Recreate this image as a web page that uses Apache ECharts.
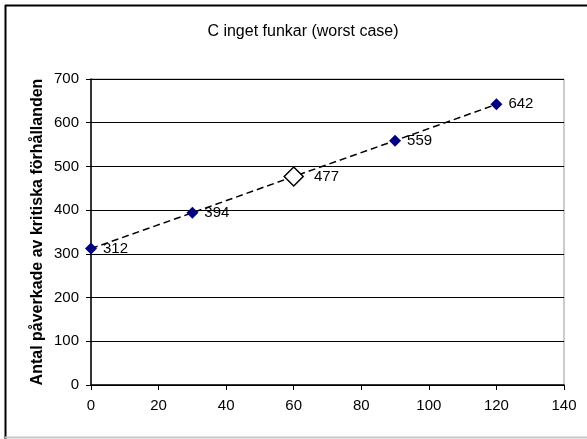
<!DOCTYPE html>
<html>
<head>
<meta charset="utf-8">
<script src="https://cdn.jsdelivr.net/npm/echarts@6/dist/echarts.min.js"></script>
<style>
html, body { margin: 0; padding: 0; background: #fff; overflow: hidden; }
#main { width: 587px; height: 439px; }
</style>
</head>
<body>
<div id="main"></div>
<script>
var xValues = [0, 30, 60, 90, 120];
var yValues = [312, 394, 477, 559, 642];
var chartTitle = 'C inget funkar (worst case)';
var yName = 'Antal påverkade av kritiska förhållanden';

var myChart = echarts.init(document.getElementById('main'));

var points = xValues.map(function (x, i) {
    var p = { value: [x, yValues[i]] };
    if (x === 60) {
        // mittpunkten: stor ofylld romb
        p.symbolSize = 19;
        p.itemStyle = { color: '#fff', borderColor: '#000', borderWidth: 1.5 };
        p.label = { distance: 10 };
    }
    return p;
});

var option = {
    animation: false,
    textStyle: { fontFamily: 'Liberation Sans, Arial, sans-serif' },
    // diagramram (vänster, topp, botten)
    graphic: [
        { type: 'line', shape: { x1: 5.5, y1: 5, x2: 5.5, y2: 439 }, style: { stroke: '#000', lineWidth: 2 } },
        { type: 'line', shape: { x1: 5, y1: 5.5, x2: 587, y2: 5.5 }, style: { stroke: '#000', lineWidth: 2 } },
        { type: 'line', shape: { x1: 5, y1: 437.5, x2: 587, y2: 437.5 }, style: { stroke: '#c8c8c8', lineWidth: 2 } }
    ],
    title: {
        text: chartTitle,
        left: 298,
        top: 19,
        textAlign: 'center',
        textStyle: { fontSize: 16, fontWeight: 'normal', color: '#000' }
    },
    grid: {
        left: 91,
        right: 23,
        top: 79,
        bottom: 54,
        show: true,
        borderColor: '#999',
        borderWidth: 1
    },
    xAxis: {
        type: 'value',
        min: 0,
        max: 140,
        interval: 20,
        axisLine: { show: true, lineStyle: { color: '#000', width: 1.5 } },
        axisTick: { show: true, inside: false, length: 5, lineStyle: { color: '#000' } },
        axisLabel: { color: '#000', fontSize: 15, margin: 13 },
        splitLine: { show: false }
    },
    yAxis: {
        type: 'value',
        min: 0,
        max: 700,
        interval: 100,
        name: yName,
        nameLocation: 'middle',
        nameGap: 45,
        nameMoveOverlap: false,
        nameTextStyle: { fontSize: 16, fontWeight: 'bold', color: '#000' },
        axisLine: { show: true, lineStyle: { color: '#000', width: 1.5 } },
        axisTick: { show: true, inside: false, length: 5, lineStyle: { color: '#000' } },
        axisLabel: { color: '#000', fontSize: 15, margin: 12 },
        splitLine: { show: true, lineStyle: { color: '#000', width: 1 } }
    },
    series: [{
        type: 'line',
        data: points,
        symbol: 'diamond',
        symbolSize: 12,
        itemStyle: { color: '#000080' },
        lineStyle: { color: '#000', width: 1.5, type: [7, 4] },
        label: {
            show: true,
            position: 'right',
            distance: 6,
            color: '#000',
            fontSize: 15,
            formatter: function (p) { return p.value[1]; }
        },
        z: 5
    }]
};

myChart.setOption(option);
</script>
</body>
</html>
